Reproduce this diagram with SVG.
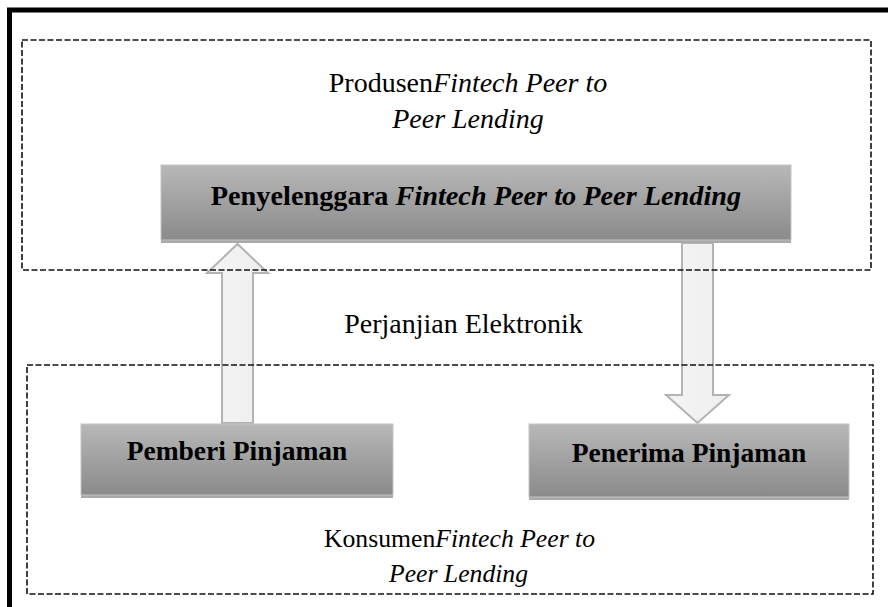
<svg xmlns="http://www.w3.org/2000/svg" width="888" height="607" viewBox="0 0 888 607">
<style>
.frame{stroke:#000;stroke-width:5;fill:none}
.dash{fill:none;stroke:#111;stroke-width:1.6;stroke-dasharray:6 2.5}
.box{fill:url(#boxg);stroke:#c4c4c4;stroke-width:1}
.shadow{fill:#a9a9a9}
.arrow{fill:url(#arrg);stroke:#b3b3b3;stroke-width:2;stroke-linejoin:miter}
text{font-family:'Liberation Serif','Times New Roman',Times,serif;fill:#000;text-anchor:middle}
.bt{font-weight:bold}
.i{font-style:italic}
</style>
<defs>
<linearGradient id="boxg" x1="0" y1="0" x2="0" y2="1">
<stop offset="0" stop-color="#b8b8b8"/>
<stop offset="1" stop-color="#8a8a8a"/>
</linearGradient>
<linearGradient id="arrg" x1="0" y1="0" x2="1" y2="0">
<stop offset="0" stop-color="#f4f4f4"/>
<stop offset="1" stop-color="#eeeeee"/>
</linearGradient>
</defs>
<rect width="888" height="607" fill="#fff"/>
<g id="frame">
<path class="frame" d="M9.5,607 V10 H888"/>
</g>
<g id="connectors">
<path class="arrow" d="M222,423 V273 H207 L237.5,244 L268,273 H253 V423 Z"/>
<path class="arrow" d="M682,243 V395 H666 L697.5,423 L729,395 H713 V243 Z"/>
</g>
<g id="penyelenggara">
<rect class="shadow" x="161" y="239" width="630" height="4"/>
<rect class="box" x="161" y="165" width="630" height="75"/>
<text class="bt" x="476" y="205" font-size="28.3">Penyelenggara <tspan class="i">Fintech Peer to Peer Lending</tspan></text>
</g>
<g id="pemberi">
<rect class="shadow" x="81" y="494" width="312" height="4"/>
<rect class="box" x="81" y="424" width="312" height="71"/>
<text class="bt" x="237" y="460" font-size="27.5">Pemberi Pinjaman</text>
</g>
<g id="penerima">
<rect class="shadow" x="529" y="496" width="320" height="4"/>
<rect class="box" x="529" y="424" width="320" height="73"/>
<text class="bt" x="689" y="462" font-size="27.5">Penerima Pinjaman</text>
</g>
<g id="produsen-group">
<rect class="dash" x="22" y="40" width="849" height="230"/>
<text x="468" y="92" font-size="28">Produsen<tspan class="i">Fintech Peer to</tspan></text>
<text class="i" x="468" y="128" font-size="28">Peer Lending</text>
</g>
<g id="perjanjian">
<text x="463.5" y="333" font-size="28">Perjanjian Elektronik</text>
</g>
<g id="konsumen-group">
<rect class="dash" x="27" y="365" width="846" height="229"/>
<text x="459.5" y="547" font-size="25.7">Konsumen<tspan class="i">Fintech Peer to</tspan></text>
<text class="i" x="458.5" y="582" font-size="25.7">Peer Lending</text>
</g>
</svg>
